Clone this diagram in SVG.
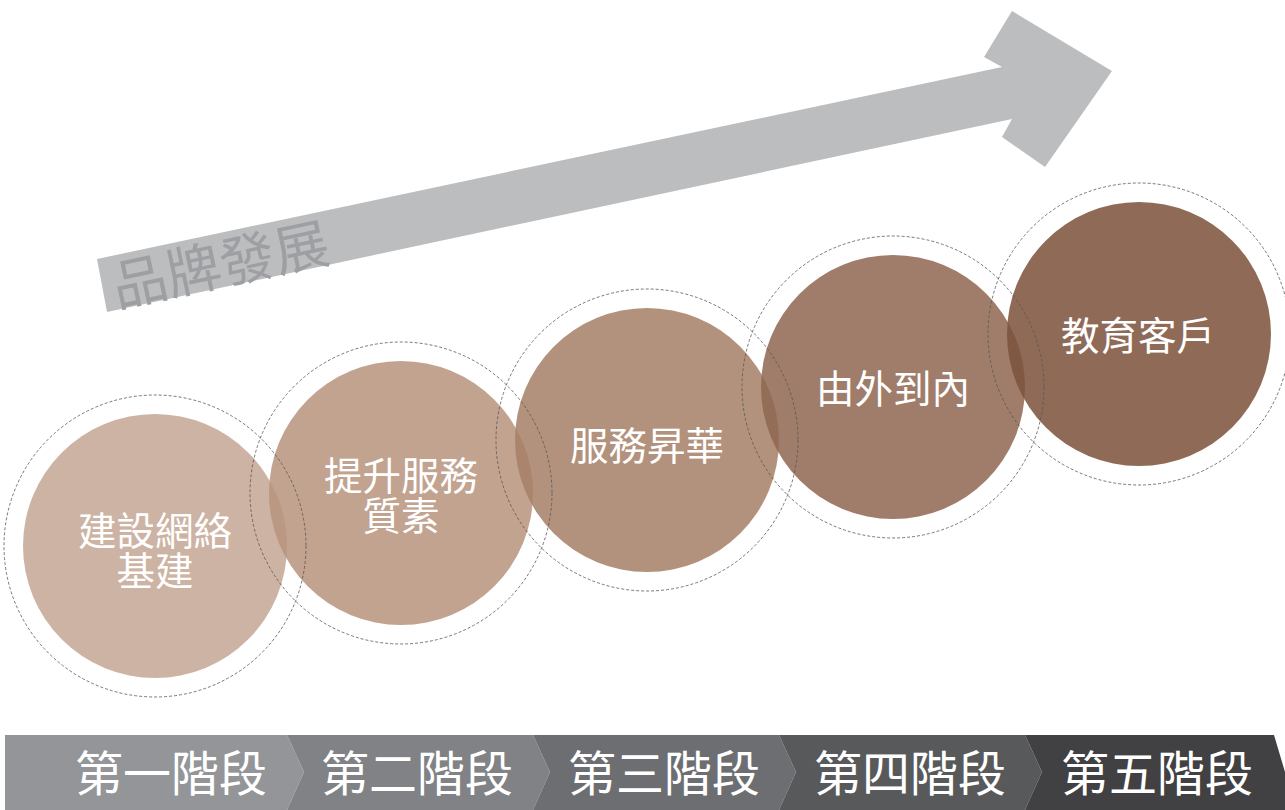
<svg xmlns="http://www.w3.org/2000/svg" width="1285" height="810" viewBox="0 0 1285 810">
<style>
.lbl{font-family:"Noto Sans CJK TC","Noto Sans CJK SC",sans-serif;fill:#fff;text-anchor:middle}
.c{font-size:38.5px}
.s{font-size:48px}
.ring{fill:none;stroke:#555;stroke-width:0.8;stroke-dasharray:3 2}
.disc{opacity:0.85}
</style>
<rect width="1285" height="810" fill="#fff"/>
<g id="arrow">
<polygon points="97,259 1002,67 984,57 1012,11 1112,71 1045,167 1002,137 1012,119 107,312" fill="#bcbdbf"/>
<text x="0" y="0" transform="translate(117,307) rotate(-12)" font-family="Noto Sans CJK TC,sans-serif" font-size="55" fill="#9d9fa2">品牌發展</text>
</g>
<g id="stages">
<polygon points="5,735 287,735 304,772 287,810 5,810" fill="#939598"/>
<polygon points="287,735 533,735 550,772 533,810 287,810 304,772" fill="#808285"/>
<polygon points="533,735 779,735 796,772 779,810 533,810 550,772" fill="#6d6e71"/>
<polygon points="779,735 1025,735 1042,772 1025,810 779,810 796,772" fill="#58595b"/>
<polygon points="1025,735 1274,735 1285,772 1285,810 1025,810 1042,772" fill="#414042"/>
<text class="lbl s" x="171" y="791">第一階段</text>
<text class="lbl s" x="417" y="791">第二階段</text>
<text class="lbl s" x="664" y="791">第三階段</text>
<text class="lbl s" x="910" y="791">第四階段</text>
<text class="lbl s" x="1157" y="791">第五階段</text>
</g>
<g id="node1"><circle class="disc" cx="155" cy="546" r="132" fill="#c4a693"/></g>
<g id="node2"><circle class="disc" cx="401" cy="493" r="132" fill="#b7937b"/></g>
<g id="node3"><circle class="disc" cx="647" cy="440" r="132" fill="#a67f66"/></g>
<g id="node4"><circle class="disc" cx="893" cy="387" r="132" fill="#8e6650"/></g>
<g id="node5"><circle class="disc" cx="1139" cy="334" r="132" fill="#7b513a"/></g>
<g id="rings">
<circle class="ring" cx="155" cy="546" r="151"/>
<circle class="ring" cx="401" cy="493" r="151"/>
<circle class="ring" cx="647" cy="440" r="151"/>
<circle class="ring" cx="893" cy="387" r="151"/>
<circle class="ring" cx="1139" cy="334" r="151"/>
</g>
<g id="labels">
<text class="lbl c"><tspan x="155" y="545">建設網絡</tspan><tspan x="155" y="585">基建</tspan></text>
<text class="lbl c"><tspan x="401" y="490">提升服務</tspan><tspan x="401" y="530">質素</tspan></text>
<text class="lbl c" x="647" y="460">服務昇華</text>
<text class="lbl c" x="893" y="403">由外到內</text>
<text class="lbl c" x="1138" y="350">教育客戶</text>
</g>
</svg>
